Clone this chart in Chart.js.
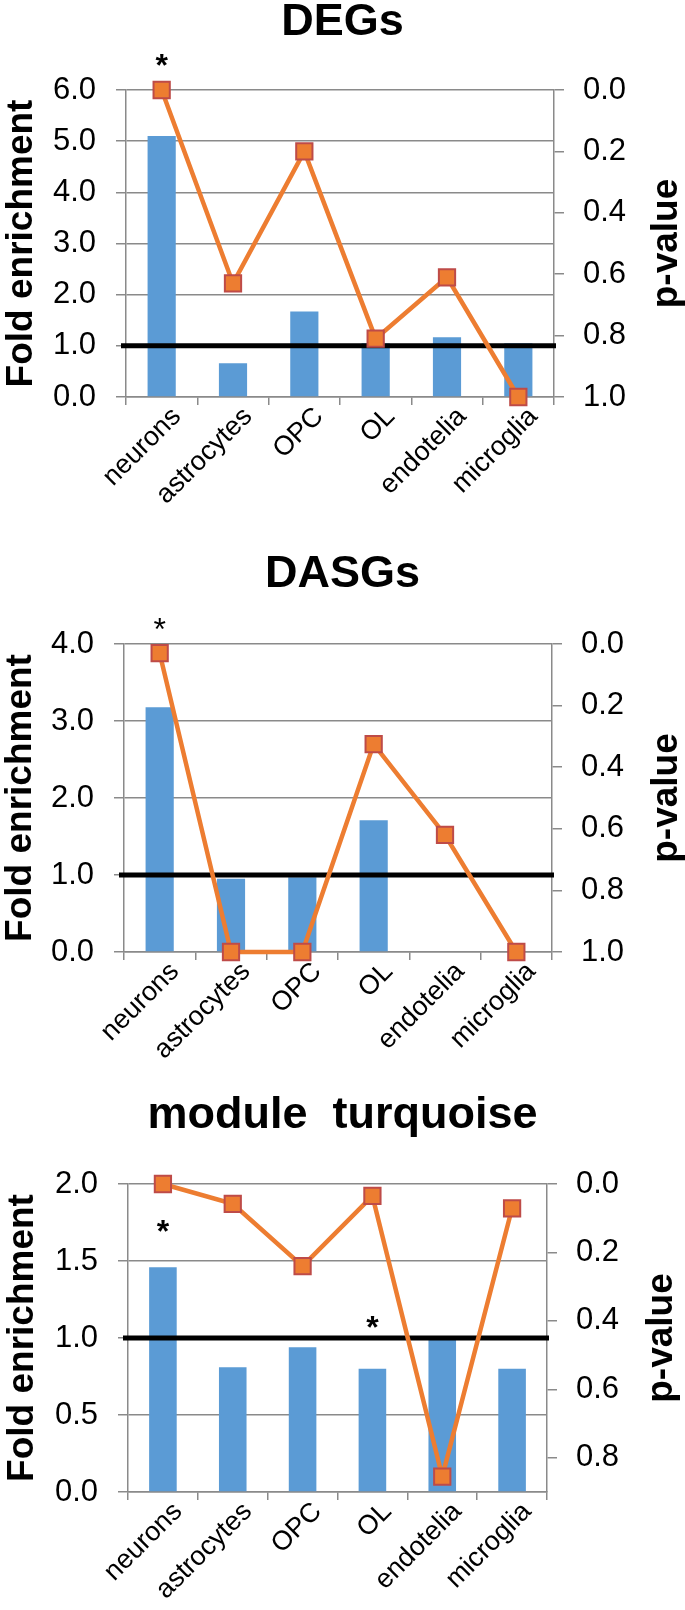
<!DOCTYPE html>
<html>
<head>
<meta charset="utf-8">
<script src="https://cdn.jsdelivr.net/npm/chart.js@4.4.1/dist/chart.umd.min.js"></script>
<style>
  html, body { margin: 0; padding: 0; background: #fff; }
  .box { position: relative; width: 685px; }
  canvas { display: block; }
</style>
</head>
<body>
<div class="box" style="height:540px"><canvas id="degChart"></canvas></div>
<div class="box" style="height:540px"><canvas id="dasgChart"></canvas></div>
<div class="box" style="height:530px"><canvas id="turqChart"></canvas></div>
<script>
// categories shared by the three panels
const cellTypes = ['neurons', 'astrocytes', 'OPC', 'OL', 'endotelia', 'microglia'];

// DEGs
const degFold = [5.10, 0.66, 1.67, 1.05, 1.17, 1.05];
const degP = [0.0, 0.63, 0.20, 0.81, 0.61, 1.0];
const degFoldTicks = [0, 1, 2, 3, 4, 5, 6];
const degPTicks = [0, 0.2, 0.4, 0.6, 0.8, 1.0];
const degStars = [{ cat: 'neurons', y: 6.63 }];

// DASGs
const dasgFold = [3.18, 0.95, 0.97, 1.71, 0, 0];
const dasgP = [0.03, 1.0, 1.0, 0.325, 0.62, 1.0];
const dasgFoldTicks = [0, 1, 2, 3, 4];
const dasgPTicks = [0, 0.2, 0.4, 0.6, 0.8, 1.0];
const dasgStars = [{ cat: 'neurons', y: 4.29 }];

// module turquoise
const turqFold = [1.46, 0.81, 0.94, 0.80, 1.0, 0.80];
const turqP = [0.0, 0.058, 0.24, 0.035, 0.855, 0.071];
const turqFoldTicks = [0, 0.5, 1.0, 1.5, 2.0];
const turqPTicks = [0, 0.2, 0.4, 0.6, 0.8];
const turqPMax = 0.9;
const turqStars = [{ cat: 'neurons', y: 1.74 }, { cat: 'OL', y: 1.117 }];

const foldThreshold = 1.0;

const FONT = "'Liberation Sans', Arial, Helvetica, sans-serif";
const GRID = '#8a8a8a';
Chart.defaults.font.family = FONT;
Chart.defaults.color = '#000';

const thresholdLine = {
  id: 'thresholdLine',
  afterDatasetDraw(chart, args, opts) {
    if (args.meta.type !== 'bar') return;
    const y = chart.scales.y.getPixelForValue(opts.value);
    const { left, right } = chart.chartArea;
    const ctx = chart.ctx;
    ctx.save();
    ctx.strokeStyle = '#000';
    ctx.lineWidth = 5;
    ctx.beginPath();
    ctx.moveTo(left - 5, y);
    ctx.lineTo(right + 2, y);
    ctx.stroke();
    ctx.restore();
  }
};

const starMarks = {
  id: 'starMarks',
  afterDraw(chart, args, opts) {
    const ctx = chart.ctx;
    const size = 32;
    ctx.save();
    ctx.font = `${opts.weight} ${size}px ${FONT}`;
    ctx.fillStyle = '#000';
    ctx.textAlign = 'center';
    ctx.textBaseline = 'alphabetic';
    (opts.stars || []).forEach(s => {
      const x = chart.scales.x.getPixelForValue(cellTypes.indexOf(s.cat));
      const y = chart.scales.y.getPixelForValue(s.y);
      ctx.fillText('*', x, y + size * 0.57);
    });
    ctx.restore();
  }
};

const sideTitles = {
  id: 'sideTitles',
  afterDraw(chart, args, opts) {
    const ctx = chart.ctx;
    const cy = (chart.chartArea.top + chart.chartArea.bottom) / 2;
    ctx.save();
    ctx.font = `bold 37px ${FONT}`;
    ctx.fillStyle = '#000';
    ctx.textAlign = 'center';
    ctx.textBaseline = 'alphabetic';
    [[opts.leftText, opts.leftX], [opts.rightText, opts.rightX]].forEach(([t, x]) => {
      ctx.save();
      ctx.translate(x, cy);
      ctx.rotate(-Math.PI / 2);
      ctx.fillText(t, 0, 0);
      ctx.restore();
    });
    ctx.restore();
  }
};

function makePanel(id, cfg) {
  const g = cfg.geo;
  return new Chart(document.getElementById(id), {
    type: 'bar',
    data: {
      labels: cellTypes,
      datasets: [
        { type: 'bar', label: 'Fold enrichment', data: cfg.fold, yAxisID: 'y', order: 2,
          backgroundColor: '#5b9bd5', categoryPercentage: 1, barPercentage: 0.395 },
        { type: 'line', label: 'p-value', data: cfg.p, yAxisID: 'y1', order: 1, clip: false,
          borderColor: '#ed7d31', borderWidth: 4.5, tension: 0,
          pointStyle: 'rect', pointRadius: 11.5, pointBorderWidth: 2,
          pointBackgroundColor: '#ed7d31', pointBorderColor: '#be4b48' }
      ]
    },
    options: {
      responsive: true,
      maintainAspectRatio: false,
      animation: false,
      layout: { padding: 0 },
      plugins: {
        legend: { display: false },
        tooltip: { enabled: false },
        title: { display: true, text: cfg.title, color: '#000',
          font: { size: 45, weight: 'bold', lineHeight: 1 },
          padding: { top: g.titleTop, bottom: g.titleBottom } },
        thresholdLine: { value: foldThreshold },
        starMarks: { stars: cfg.stars, weight: cfg.starWeight },
        sideTitles: { leftText: 'Fold enrichment', leftX: g.leftTitleX, rightText: 'p-value', rightX: g.rightTitleX }
      },
      scales: {
        x: {
          offset: true,
          grid: { offset: true, drawOnChartArea: false, tickLength: 8, color: GRID, lineWidth: 1.5 },
          border: { display: true, color: GRID, width: 1.5 },
          ticks: { minRotation: 45, maxRotation: 45, padding: -4, labelOffset: 15, font: { size: 27 } },
          afterFit(scale) { scale.height = g.xHeight; }
        },
        y: {
          position: 'left',
          min: 0, max: cfg.foldTicks[cfg.foldTicks.length - 1],
          afterBuildTicks(axis) { axis.ticks = cfg.foldTicks.map(v => ({ value: v })); },
          grid: { color: GRID, lineWidth: 1.5, tickLength: 10 },
          border: { display: true, color: GRID, width: 1.5 },
          ticks: { padding: 20, font: { size: 31 }, callback: v => Number(v).toFixed(1) },
          afterFit(scale) { scale.width = g.left; }
        },
        y1: {
          position: 'right',
          reverse: true,
          min: 0, max: cfg.pMax,
          afterBuildTicks(axis) { axis.ticks = cfg.pTicks.map(v => ({ value: v })); },
          grid: { drawOnChartArea: false, color: GRID, lineWidth: 1.5, tickLength: 10 },
          border: { display: true, color: GRID, width: 1.5 },
          ticks: { padding: 19, font: { size: 31 }, callback: v => Number(v).toFixed(1) },
          afterFit(scale) { scale.width = g.right; }
        }
      }
    },
    plugins: [thresholdLine, starMarks, sideTitles]
  });
}

makePanel('degChart', {
  title: 'DEGs', fold: degFold, p: degP, foldTicks: degFoldTicks, pTicks: degPTicks, pMax: 1.0,
  stars: degStars, starWeight: 'bold',
  geo: { titleTop: 0, titleBottom: 45, left: 126, right: 131, xHeight: 143, leftTitleX: 32, rightTitleX: 677 }
});
makePanel('dasgChart', {
  title: 'DASGs', fold: dasgFold, p: dasgP, foldTicks: dasgFoldTicks, pTicks: dasgPTicks, pMax: 1.0,
  stars: dasgStars, starWeight: 'normal',
  geo: { titleTop: 12, titleBottom: 47, left: 124, right: 133, xHeight: 128, leftTitleX: 31, rightTitleX: 677 }
});
makePanel('turqChart', {
  title: 'module  turquoise', fold: turqFold, p: turqP, foldTicks: turqFoldTicks, pTicks: turqPTicks, pMax: turqPMax,
  stars: turqStars, starWeight: 'bold',
  geo: { titleTop: 13, titleBottom: 46, left: 128, right: 138, xHeight: 118, leftTitleX: 33, rightTitleX: 672 }
});
</script>
</body>
</html>
